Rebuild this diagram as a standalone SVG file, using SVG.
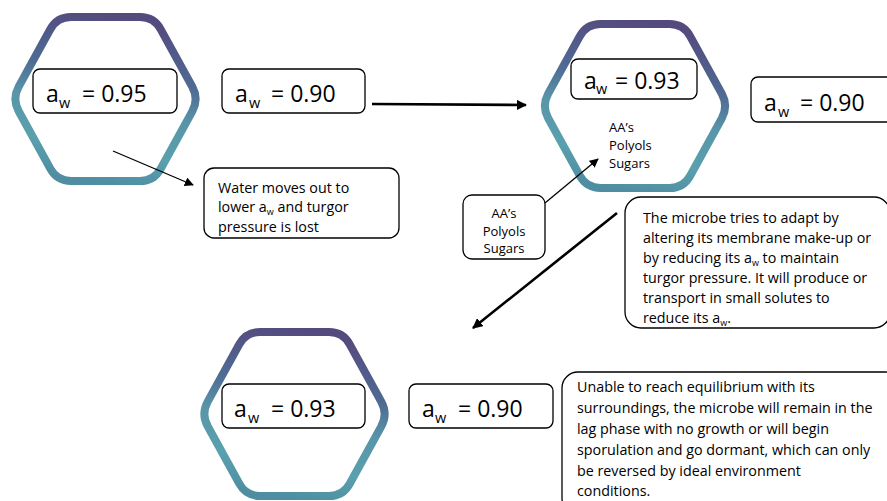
<svg xmlns="http://www.w3.org/2000/svg" xmlns:xlink="http://www.w3.org/1999/xlink" width="887" height="501" viewBox="0 0 887 501">
<style>
.box{fill:#fff;stroke:#000;stroke-width:1.3}
.big{font-family:"Open Sans","Liberation Sans",sans-serif;font-size:23px;fill:#000}
.sub{font-size:14.5px}
.txt{font-family:"Open Sans","Liberation Sans",sans-serif;font-size:14.3px;fill:#000}
.sm{font-family:"Open Sans","Liberation Sans",sans-serif;font-size:13px;fill:#000}
.hex{fill:none;stroke:url(#hg);stroke-width:8}
.thick{stroke:#000;stroke-width:2.6;fill:none}
.thin{stroke:#000;stroke-width:1.3;fill:none}
</style>
<defs>
<linearGradient id="hg" x1="0.6" y1="0" x2="0.4" y2="1">
<stop offset="0" stop-color="#544a7e"/>
<stop offset="0.35" stop-color="#4f6b94"/>
<stop offset="0.55" stop-color="#5895a8"/>
<stop offset="0.8" stop-color="#5aa0ae"/>
<stop offset="1" stop-color="#4f8ea2"/>
</linearGradient>
<path id="hx" d="M-34.5,-82 L34.5,-82 Q48.5,-82 55.2,-69.7 L86.8,-12.3 Q93.5,0 86.8,12.3 L55.2,69.7 Q48.5,82 34.5,82 L-34.5,82 Q-48.5,82 -55.2,69.7 L-86.8,12.3 Q-93.5,0 -86.8,-12.3 L-55.2,-69.7 Q-48.5,-82 -34.5,-82 Z"/>
<marker id="ah" viewBox="0 0 10 10" refX="9" refY="5" markerWidth="4" markerHeight="4" orient="auto" markerUnits="strokeWidth"><path d="M0,0 L10,5 L0,10 Z" fill="#000"/></marker>
<marker id="ahs" viewBox="0 0 10 10" refX="9" refY="5" markerWidth="7" markerHeight="7" orient="auto" markerUnits="strokeWidth"><path d="M0,0 L10,5 L0,10 Z" fill="#000"/></marker>
</defs>

<g id="cell1">
<use xlink:href="#hx" class="hex" transform="translate(105.5,99)"/>
<rect class="box" x="33" y="69" width="144" height="44" rx="7"/>
<text class="big" y="102"><tspan x="46">a</tspan><tspan class="sub" x="59" y="108">w</tspan><tspan x="82" y="102">= 0.95</tspan></text>
</g>

<g id="env1">
<rect class="box" x="222" y="69" width="143" height="44" rx="7"/>
<text class="big" y="102"><tspan x="235">a</tspan><tspan class="sub" x="249" y="108">w</tspan><tspan x="271" y="102">= 0.90</tspan></text>
</g>

<g id="note1">
<rect class="box" x="204" y="168" width="195" height="70" rx="10"/>
<text class="txt"><tspan x="218" y="193">Water moves out to</tspan><tspan x="218" y="212">lower a<tspan font-size="9" dy="2.5">w</tspan><tspan dy="-2.5"> and turgor</tspan></tspan><tspan x="218" y="232">pressure is lost</tspan></text>
</g>

<g id="cell2">
<use xlink:href="#hx" class="hex" transform="translate(635,106)"/>
<rect class="box" x="571" y="59" width="126" height="40" rx="7"/>
<text class="big" font-size="21" y="89"><tspan x="584">a</tspan><tspan class="sub" font-size="14" x="596" y="94">w</tspan><tspan x="615" y="89">= 0.93</tspan></text>
<text class="sm"><tspan x="609" y="132">AA’s</tspan><tspan x="609" y="150">Polyols</tspan><tspan x="609" y="168">Sugars</tspan></text>
</g>

<g id="env2">
<rect class="box" x="751" y="77" width="150" height="45" rx="7"/>
<text class="big" font-size="25" y="111"><tspan x="764">a</tspan><tspan class="sub" font-size="15.5" x="778" y="117">w</tspan><tspan x="800" y="111">= 0.90</tspan></text>
</g>

<g id="solutes">
<rect class="box" x="463" y="195" width="82" height="64" rx="9"/>
<text class="sm" text-anchor="middle"><tspan x="504" y="218">AA’s</tspan><tspan x="504" y="236">Polyols</tspan><tspan x="504" y="253">Sugars</tspan></text>
</g>

<g id="note2">
<rect class="box" x="625" y="197" width="265" height="131" rx="16"/>
<text class="txt"><tspan x="643" y="223">The microbe tries to adapt by</tspan><tspan x="643" y="243">altering its membrane make-up or</tspan><tspan x="643" y="263">by reducing its a<tspan font-size="9" dy="2.5">w</tspan><tspan dy="-2.5"> to maintain</tspan></tspan><tspan x="643" y="283">turgor pressure. It will produce or</tspan><tspan x="643" y="303">transport in small solutes to</tspan><tspan x="643" y="323">reduce its a<tspan font-size="9" dy="2.5">w</tspan><tspan dy="-2.5">.</tspan></tspan></text>
</g>

<g id="cell3">
<use xlink:href="#hx" class="hex" transform="translate(294.5,414)"/>
<rect class="box" x="222" y="384" width="143" height="44" rx="7"/>
<text class="big" y="417"><tspan x="234">a</tspan><tspan class="sub" x="248" y="423">w</tspan><tspan x="271" y="417">= 0.93</tspan></text>
</g>

<g id="env3">
<rect class="box" x="409" y="384" width="144" height="44" rx="7"/>
<text class="big" y="417"><tspan x="422">a</tspan><tspan class="sub" x="435" y="423">w</tspan><tspan x="458" y="417">= 0.90</tspan></text>
</g>

<g id="note3">
<rect class="box" x="562" y="372" width="340" height="142" rx="16"/>
<text class="txt"><tspan x="577" y="392">Unable to reach equilibrium with its</tspan><tspan x="577" y="413">surroundings, the microbe will remain in the</tspan><tspan x="577" y="434">lag phase with no growth or will begin</tspan><tspan x="577" y="455">sporulation and go dormant, which can only</tspan><tspan x="577" y="476">be reversed by ideal environment</tspan><tspan x="577" y="496">conditions.</tspan></text>
</g>

<g id="connectors">
<line class="thick" x1="372" y1="104" x2="526" y2="105" marker-end="url(#ah)"/>
<line class="thin" x1="113" y1="151" x2="193" y2="185" marker-end="url(#ahs)"/>
<line class="thin" x1="545" y1="203" x2="598" y2="159" marker-end="url(#ahs)"/>
<line class="thick" x1="617" y1="213" x2="473" y2="328" marker-end="url(#ah)"/>
</g>
</svg>
